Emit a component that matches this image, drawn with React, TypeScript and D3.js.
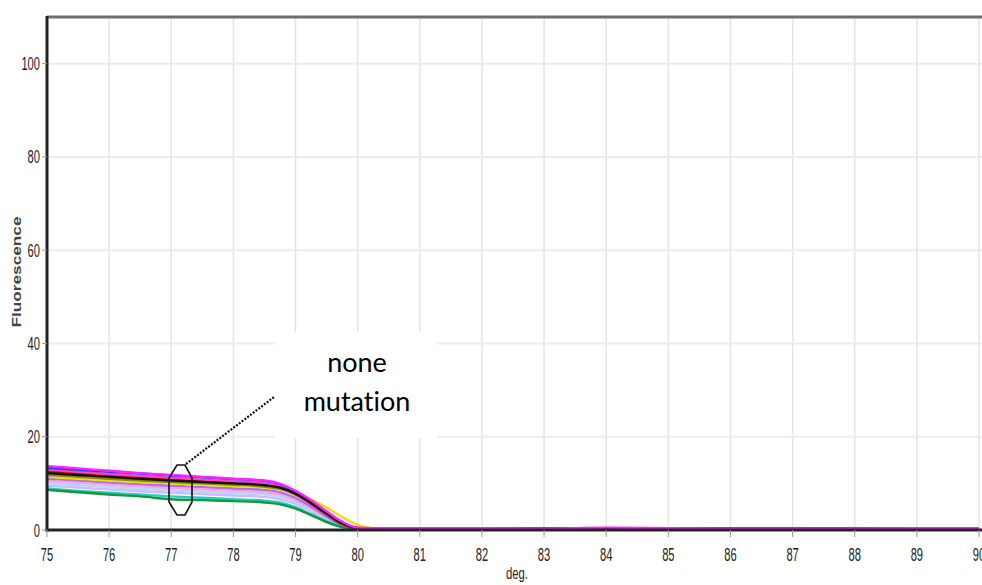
import React from 'react';
import * as d3 from 'd3';

// temperatures (deg.) where the curves were read
const temps = [75, 75.5, 76, 76.5, 77, 77.5, 78, 78.5, 78.75, 79, 79.25, 79.5, 79.75, 80, 80.25, 80.5, 81, 82, 83, 84, 85, 86, 87, 88, 89, 90];

// fluorescence of each well
const magenta = [13.7, 13.2, 12.7, 12.2, 11.8, 11.4, 11.0, 10.6, 9.9, 8.4, 6.4, 4.0, 1.8, 0.5, 0.4, 0.4, 0.4, 0.4, 0.3, 0.5, 0.4, 0.3, 0.3, 0.3, 0.4, 0.4];
const blue = [13.3, 12.9, 12.5, 12.1, 11.7, 11.3, 10.9, 10.5, 9.8, 8.2, 6.1, 3.7, 1.5, 0.4, 0.3, 0.3, 0.3, 0.3, 0.3, 0.3, 0.3, 0.3, 0.3, 0.3, 0.3, 0.3];
const hotpink = [13.0, 12.5, 12.0, 11.6, 11.2, 10.8, 10.4, 10.0, 9.3, 7.8, 5.8, 3.4, 1.3, 0.4, 0.3, 0.3, 0.3, 0.3, 0.3, 0.3, 0.3, 0.3, 0.3, 0.4, 0.4, 0.4];
const red = [12.6, 12.1, 11.7, 11.3, 10.9, 10.5, 10.2, 9.8, 9.2, 7.7, 5.6, 3.3, 1.2, 0.3, 0.3, 0.3, 0.3, 0.3, 0.3, 0.3, 0.3, 0.3, 0.3, 0.3, 0.3, 0.3];
const black = [12.2, 11.8, 11.4, 11.0, 10.6, 10.3, 10.0, 9.6, 9.1, 7.8, 5.8, 3.5, 1.4, 0.4, 0.2, 0.2, 0.2, 0.2, 0.2, 0.2, 0.2, 0.2, 0.2, 0.2, 0.2, 0.2];
const olive = [11.8, 11.4, 11.0, 10.6, 10.3, 10.0, 9.7, 9.3, 8.8, 7.6, 5.8, 3.6, 1.6, 0.5, 0.3, 0.3, 0.3, 0.3, 0.3, 0.3, 0.3, 0.3, 0.3, 0.3, 0.3, 0.3];
const yellow = [11.4, 11.0, 10.6, 10.3, 10.0, 9.7, 9.4, 9.1, 8.7, 7.9, 6.6, 4.8, 2.8, 1.1, 0.4, 0.3, 0.3, 0.3, 0.3, 0.3, 0.3, 0.3, 0.3, 0.3, 0.3, 0.3];
const violet = [11.0, 10.6, 10.2, 9.8, 9.5, 9.2, 8.9, 8.6, 8.1, 6.9, 5.0, 2.9, 1.1, 0.3, 0.3, 0.3, 0.3, 0.3, 0.3, 0.3, 0.3, 0.3, 0.4, 0.4, 0.3, 0.3];
const lightpink = [10.5, 10.1, 9.7, 9.3, 9.0, 8.7, 8.4, 8.1, 7.6, 6.4, 4.6, 2.6, 1.0, 0.3, 0.3, 0.3, 0.3, 0.3, 0.3, 0.3, 0.3, 0.3, 0.3, 0.3, 0.3, 0.3];
const lightblue = [10.0, 9.6, 9.2, 8.8, 8.5, 8.2, 7.9, 7.6, 7.1, 6.0, 4.3, 2.4, 0.9, 0.3, 0.3, 0.3, 0.3, 0.3, 0.3, 0.3, 0.3, 0.3, 0.3, 0.3, 0.3, 0.3];
const lavender = [9.5, 9.1, 8.7, 8.3, 8.0, 7.7, 7.4, 7.1, 6.6, 5.6, 4.0, 2.2, 0.8, 0.3, 0.3, 0.3, 0.3, 0.3, 0.3, 0.3, 0.3, 0.3, 0.3, 0.3, 0.3, 0.3];
const cyan = [8.9, 8.4, 8.0, 7.6, 7.2, 6.9, 6.6, 6.3, 5.9, 4.9, 3.4, 1.9, 0.7, 0.3, 0.2, 0.2, 0.2, 0.2, 0.2, 0.2, 0.2, 0.2, 0.2, 0.2, 0.2, 0.2];
const green = [8.6, 8.1, 7.6, 7.2, 6.6, 6.4, 6.2, 5.9, 5.5, 4.6, 3.2, 1.7, 0.6, 0.2, 0.2, 0.2, 0.2, 0.2, 0.2, 0.2, 0.2, 0.2, 0.2, 0.2, 0.2, 0.2];

const wells = [
  { values: lavender, color: '#d8b4ff' },
  { values: lightblue, color: '#a8def5' },
  { values: lightpink, color: '#ff9fe6' },
  { values: violet, color: '#b070e8' },
  { values: cyan, color: '#26cccc' },
  { values: green, color: '#0f9a3a' },
  { values: yellow, color: '#e8e010' },
  { values: olive, color: '#8a8a10' },
  { values: red, color: '#e01010' },
  { values: hotpink, color: '#ff40c0' },
  { values: blue, color: '#2040ff' },
  { values: black, color: '#111111' },
  { values: magenta, color: '#ff20ff' },
];

const xTicks = [75, 76, 77, 78, 79, 80, 81, 82, 83, 84, 85, 86, 87, 88, 89, 90];
const yTicks = [0, 20, 40, 60, 80, 100];

const W = 982, H = 585;
const left = 47, right = 979, top = 17, bottom = 530;

export default function App() {
  const x = d3.scaleLinear().domain([75, 90]).range([left, right]);
  const y = d3.scaleLinear().domain([0, 110]).range([bottom, top]);
  const line = d3.line<number>()
    .x((_, i) => x(temps[i]))
    .y(d => y(d))
    .curve(d3.curveMonotoneX);

  const digitW = 6.2;

  return (
    <svg width={W} height={H} style={{ position: 'absolute', left: 0, top: 0, background: '#fff' }}
      fontFamily="'Liberation Sans', Arial, sans-serif">
      <rect x={0} y={0} width={W} height={H} fill="#fff" />
      {/* grid */}
      {xTicks.map(t => (
        <line key={'gx' + t} x1={x(t)} x2={x(t)} y1={top} y2={bottom} stroke="#e4e4e4" strokeWidth={1.5} />
      ))}
      {yTicks.map(t => (
        <line key={'gy' + t} x1={left} x2={W} y1={y(t)} y2={y(t)} stroke="#ececec" strokeWidth={2} />
      ))}

      {/* curves */}
      {wells.map((w, i) => (
        <path key={i} d={line(w.values) || ''} fill="none" stroke={w.color} strokeWidth={2.4} />
      ))}

      {/* frame */}
      <line x1={left} x2={W} y1={top} y2={top} stroke="#6e6e6e" strokeWidth={3} />
      <line x1={left} x2={left} y1={top - 1} y2={bottom + 1.5} stroke="#222" strokeWidth={3} />
      <line x1={left - 1.5} x2={W} y1={bottom} y2={bottom} stroke="#222" strokeWidth={3} />

      {/* y axis */}
      {yTicks.map(t => {
        const s = String(t);
        return (
          <g key={'ty' + t}>
            <line x1={left - 5} x2={left} y1={y(t)} y2={y(t)} stroke="#999" strokeWidth={1} />
            <text x={40} y={y(t) + 6.5} fontSize={18} textAnchor="end" fill="#222"
              textLength={s.length * digitW} lengthAdjust="spacingAndGlyphs">{s}</text>
          </g>
        );
      })}
      {/* x axis */}
      {xTicks.map(t => {
        const s = String(t);
        return (
          <g key={'tx' + t}>
            <line x1={x(t)} x2={x(t)} y1={bottom} y2={bottom + 7} stroke="#999" strokeWidth={1} />
            <text x={x(t)} y={561} fontSize={18} textAnchor="middle" fill="#222"
              textLength={s.length * digitW} lengthAdjust="spacingAndGlyphs">{s}</text>
          </g>
        );
      })}
      <text x={517} y={579} fontSize={17} textAnchor="middle" fill="#222"
        textLength={22} lengthAdjust="spacingAndGlyphs">deg.</text>
      <text transform="translate(21,272) rotate(-90)" fontSize={12} fontWeight="bold" textAnchor="middle" fill="#444"
        textLength={111} lengthAdjust="spacingAndGlyphs">Fluorescence</text>

      {/* annotation */}
      <rect x={275} y={332} width={162} height={106} fill="#fff" />
      <g fontFamily="Lato, 'Open Sans', sans-serif" fontSize={27} fill="#000" textAnchor="middle"
        style={{ fontVariantLigatures: 'none' }}>
        <text x={357} y={372}>none</text>
        <text x={357} y={411}>mutation</text>
      </g>
      <line x1={186} y1={464} x2={274} y2={397} stroke="#111" strokeWidth={2.2} strokeDasharray="2 1.5" />
      <polygon points="177,465 185,465 192,478 192,502 185,515 177,515 169,502 169,478"
        fill="none" stroke="#111" strokeWidth={1.6} />
    </svg>
  );
}
